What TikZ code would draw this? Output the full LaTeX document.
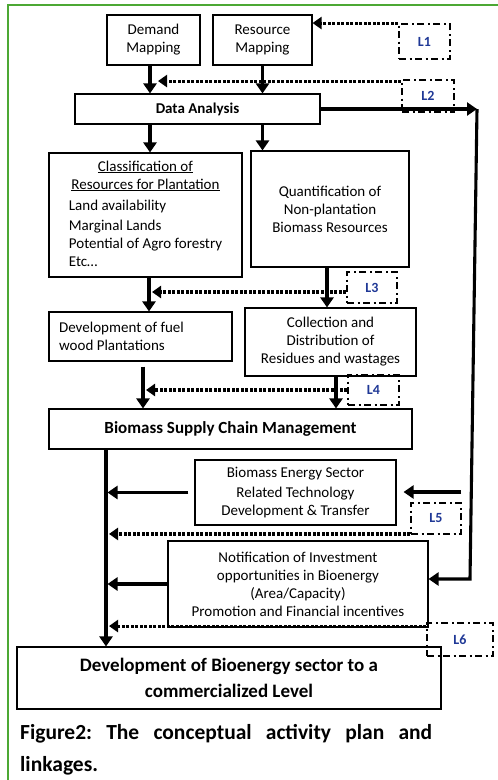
\documentclass[tikz,border=0pt]{standalone}
\usepackage{fontspec}
\setmainfont{Carlito}
\usetikzlibrary{arrows.meta}
\def\bx{\fontsize{15}{18}\selectfont}
\def\bxb{\fontsize{15}{18}\selectfont\bfseries}
\def\scm{\fontsize{17}{20}\selectfont\bfseries}
\def\fin{\fontsize{19}{26}\selectfont\bfseries}
\def\lk{\fontsize{14}{16}\selectfont\bfseries}
\def\cap{\fontsize{21.5}{32}\selectfont\bfseries\frenchspacing}
\definecolor{lblue}{RGB}{31,56,150}
\definecolor{pagegreen}{RGB}{76,168,52}

\begin{document}
\begin{tikzpicture}[
			x=1pt,y=-1pt,
			blk/.style={draw,line width=1.1pt,align=center,font=\bx},
			lnk/.style={draw,line width=1.9pt,dash pattern=on 7pt off 3.5pt on 2pt off 3.5pt,font=\lk,text=lblue},
			flow/.style={line width=3.1pt,-{Triangle[length=10pt,width=13pt]}},
			trail/.style={line width=3.1pt},
			dots/.style={line width=3.1pt,dash pattern=on 3pt off 1.5pt,-{Triangle[length=9pt,width=12pt]}},
			inner sep=0pt]
			\useasboundingbox (0,0) rectangle (498,780);
			\draw [pagegreen,line width=1.8pt] (8,780) -- (8,5) -- (498,5);
			\node [blk,minimum width=93pt,minimum height=50pt]	(dm)	at (153.5,40)	{Demand\\Mapping};
			\node [blk,minimum width=99pt,minimum height=50pt]	(rm)	at (262.5,40)	{Resource\\Mapping};
			\node [lnk,minimum width=51pt,minimum height=35pt]	(L1)	at (424.5,41.5)	{L1};
			\node [blk,minimum width=245pt,minimum height=30pt,font=\bxb]	(da)	at (197.5,109)	{Data Analysis};
			\node [lnk,minimum width=52pt,minimum height=32pt]	(L2)	at (428,96)	{L2};
			\node [blk,minimum width=193pt,minimum height=124pt]	(cls)	at (145.5,215)
				{\begin{tabular}{@{}l@{}}
				\multicolumn{1}{@{}c@{}}{\underline{Classification of}}\\
				\multicolumn{1}{@{}c@{}}{\underline{Resources for Plantation}}\\[3pt]
				Land availability\\[2pt]
				Marginal Lands\\
				Potential of Agro forestry\\
				Etc…
				\end{tabular}};
			\node [blk,minimum width=158pt,minimum height=116pt]	(qnt)	at (330,209)	{Quantification of\\Non-plantation\\Biomass Resources};
			\node [lnk,minimum width=50pt,minimum height=31pt]	(L3)	at (372,287.5)	{L3};
			\node [blk,minimum width=183pt,minimum height=49pt,align=left]	(dev)	at (140.5,336.5)	{Development of fuel\hspace*{38pt}\\wood Plantations};
			\node [blk,minimum width=171pt,minimum height=68pt]	(col)	at (330.5,342)	{Collection and\\Distribution of\\Residues and wastages};
			\node [lnk,minimum width=51pt,minimum height=30pt]	(L4)	at (373.5,390)	{L4};
			\node [blk,minimum width=363pt,minimum height=40pt,font=\scm]	(bscm)	at (230.5,429)	{Biomass Supply Chain Management};
			\node [blk,minimum width=201pt,minimum height=65pt]	(bes)	at (295.5,492.5)	{Biomass Energy Sector\\[2pt]Related Technology\\Development \& Transfer};
			\node [lnk,minimum width=50pt,minimum height=31pt]	(L5)	at (436,518.5)	{L5};
			\node [blk,minimum width=260pt,minimum height=86pt]	(nti)	at (298,584)	{Notification of Investment\\opportunities in Bioenergy\\(Area/Capacity)\\Promotion and Financial incentives};
			\node [lnk,minimum width=66pt,minimum height=33pt]	(L6)	at (460,639.5)	{L6};
			\node [blk,minimum width=424pt,minimum height=62pt,font=\fin]	(dbe)	at (229,678)	{Development of Bioenergy sector to a\\commercialized Level};
			\node [anchor=north west]	(cap)	at (20,724)
				{\parbox{412pt}{\cap\tolerance=10000\hyphenpenalty=10000 Figure2: The conceptual activity plan and linkages.}};
			\coordinate (tk) at (106,0);
			\coordinate (cr1) at (477,110);
			\coordinate (cr2) at (470,579);
			\coordinate (bin) at (461,492);
			\draw [flow] ([xshift=-3.5pt]dm.south) -- ([xshift=-3.5pt]dm.south |- da.north);
			\draw [flow] (rm.south) -- (rm.south |- da.north);
			\draw [flow] ([xshift=4.5pt]cls.north |- da.south) -- ([xshift=4.5pt]cls.north);
			\draw [flow] (rm.south |- da.south) -- (rm.south |- qnt.north);
			\draw [flow] (da.east) -- (da.east -| cr1);
			\draw [trail,-{Triangle[length=10pt,width=13pt]}] (da.east -| cr1) -- (cr2) -- (cr2 -| nti.east);
			\draw [flow] ([xshift=3.5pt]cls.south) -- ([xshift=3.5pt]cls.south |- dev.north);
			\draw [flow] ([xshift=-3pt]qnt.south) -- ([xshift=-3pt]qnt.south |- col.north);
			\draw [flow] ([xshift=2.5pt,yshift=-5pt]dev.south) -- ([xshift=2.5pt]dev.south |- bscm.north);
			\draw [flow] ([xshift=5.5pt]col.south) -- ([xshift=5.5pt]col.south |- bscm.north);
			\draw [flow] (tk |- bscm.south) -- (tk |- dbe.north);
			\draw [flow,shorten >=1.5pt] ([xshift=-6pt]bes.west) -- (bes.west -| tk);
			\draw [flow,shorten >=7pt] (bin) -- (bin -| bes.east);
			\draw [flow,shorten >=1.5pt] (nti.west) -- (nti.west -| tk);
			\draw [dots] (L1.north west) -- (L1.north west -| rm.east);
			\draw [dots,shorten >=8pt] ([yshift=-2pt]L2.north west) -- ([yshift=-2pt,xshift=-3.5pt]L2.north west -| dm.south);
			\draw [dots,shorten >=3pt] ([yshift=-4.5pt]L3.west) -- ([yshift=-4.5pt,xshift=3.5pt]L3.west -| cls.south);
			\draw [dots,shorten >=3pt] (L4.west) -- ([xshift=2.5pt]L4.west -| dev.south);
			\draw [dots,shorten >=3pt] ([yshift=1pt]L5.south west) -- ([yshift=1pt]L5.south west -| tk);
			\draw [dots,shorten >=3pt] ([yshift=-4pt]L6.north west) -- ([yshift=-4pt]L6.north west -| tk);
		\end{tikzpicture}
\end{document}
